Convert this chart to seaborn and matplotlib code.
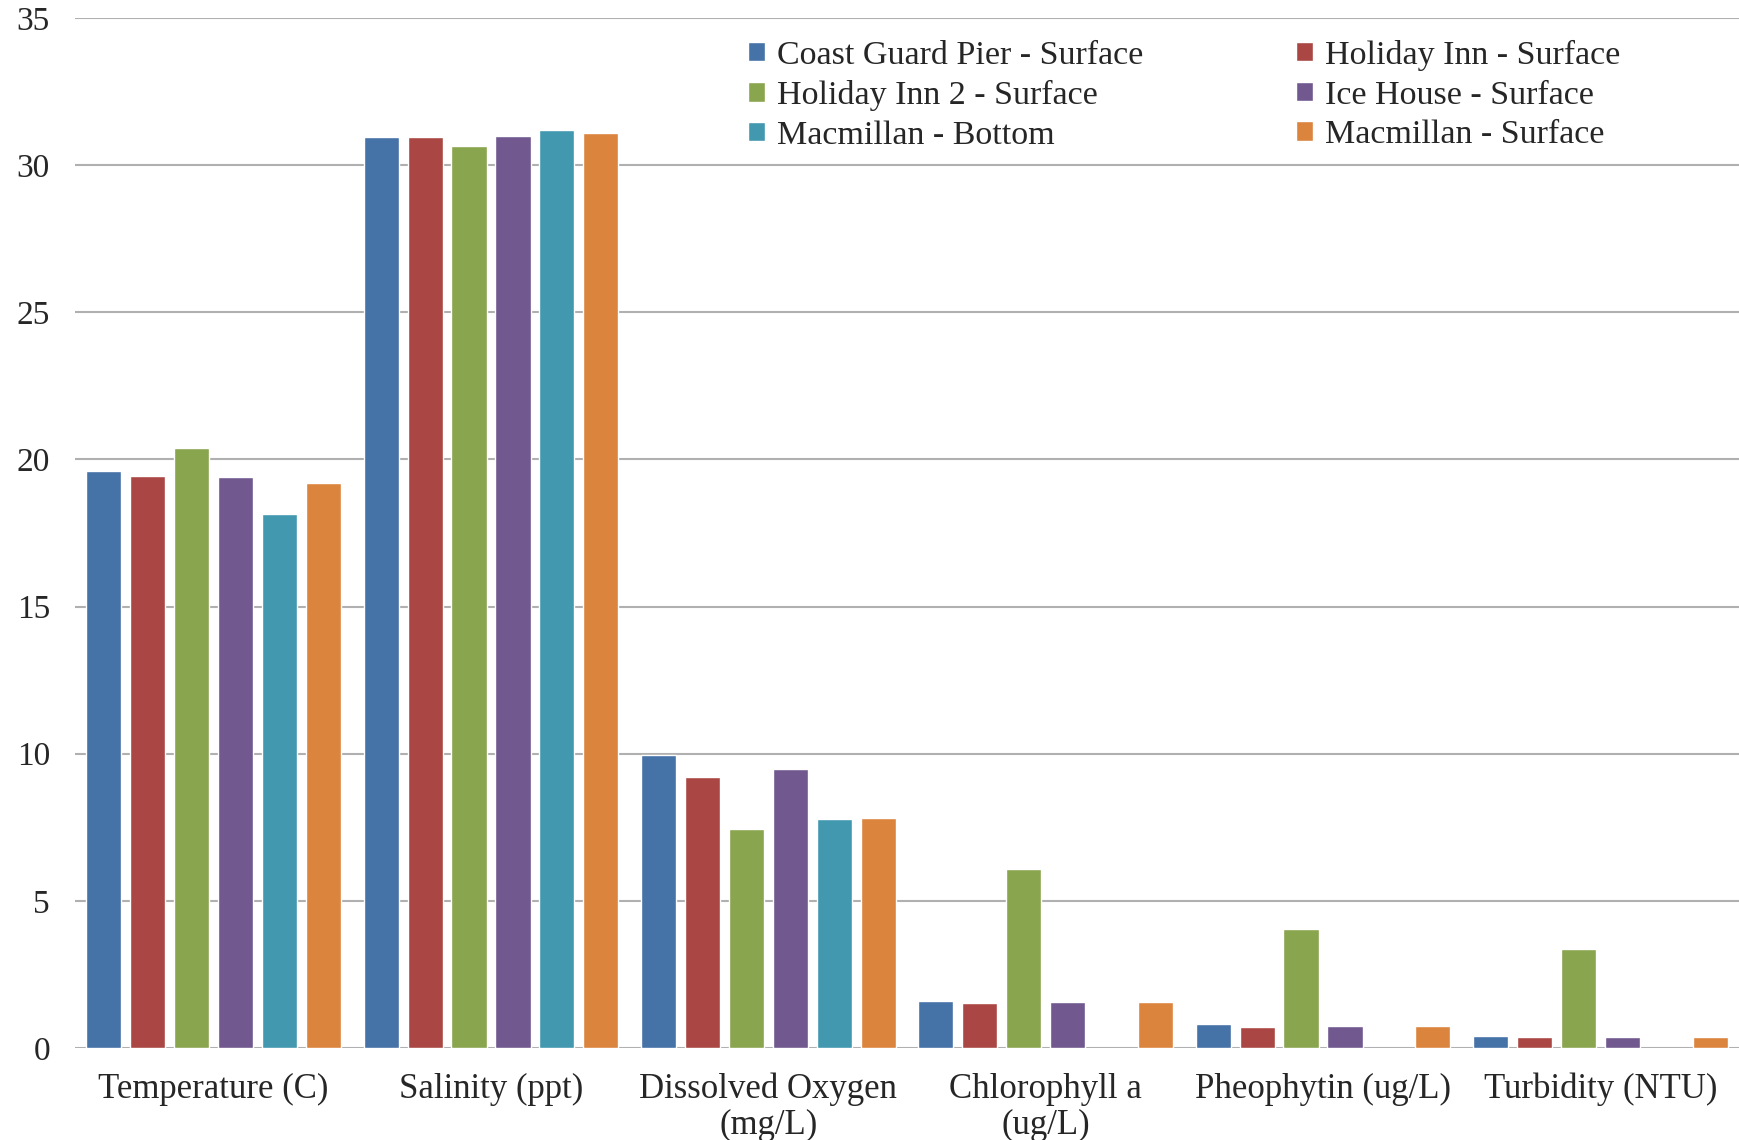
import numpy as np
import pandas as pd
import seaborn as sns
from matplotlib import pyplot as plt

categories = [
    'Temperature (C)',
    'Salinity (ppt)',
    'Dissolved Oxygen\n(mg/L)',
    'Chlorophyll a\n(ug/L)',
    'Pheophytin (ug/L)',
    'Turbidity (NTU)',
]
sites = [
    'Coast Guard Pier - Surface',
    'Holiday Inn - Surface',
    'Holiday Inn 2 - Surface',
    'Ice House - Surface',
    'Macmillan - Bottom',
    'Macmillan - Surface',
]
coast_guard = [19.6, 30.95, 9.95, 1.61, 0.81, 0.40]
holiday_inn = [19.45, 30.95, 9.2, 1.54, 0.72, 0.36]
holiday_inn_2 = [20.4, 30.65, 7.43, 6.09, 4.03, 3.37]
ice_house = [19.4, 31.0, 9.47, 1.58, 0.75, 0.36]
macmillan_bottom = [18.15, 31.2, 7.77, np.nan, np.nan, np.nan]
macmillan_surface = [19.2, 31.1, 7.81, 1.58, 0.75, 0.36]
colors = ['#4572A7', '#AA4643', '#89A54E', '#71588F', '#4198AF', '#DB843D']

series = [coast_guard, holiday_inn, holiday_inn_2, ice_house, macmillan_bottom, macmillan_surface]
rows = []
for site, values in zip(sites, series):
    for cat, v in zip(categories, values):
        rows.append({'category': cat, 'site': site, 'value': v})
df = pd.DataFrame(rows)

sns.set_style('white')
plt.rcParams['font.family'] = ['Liberation Serif', 'DejaVu Serif']

fig = plt.figure(figsize=(17.39, 11.40), dpi=100)
ax = fig.add_axes([75 / 1739, 1 - 1048 / 1140, 1 - 75 / 1739, (1048 - 18) / 1140])

sns.barplot(
    data=df, x='category', y='value', hue='site',
    order=categories, hue_order=sites, palette=colors,
    width=0.95, gap=0.2, errorbar=None, saturation=1, ax=ax,
)

ax.set_xlim(-0.5, 5.5)
ax.set_ylim(0, 35)
ax.set_yticks(range(0, 36, 5))
ax.yaxis.grid(True, color='#b0b0b0', linewidth=1.5)
ax.set_axisbelow(True)
for s in ax.spines.values():
    s.set_visible(False)
ax.set_xlabel('')
ax.set_ylabel('')
ax.tick_params(axis='y', length=0, pad=18, labelsize=24)
ax.tick_params(axis='x', length=0, pad=18, labelsize=25)
for lbl in ax.get_xticklabels():
    lbl.set_linespacing(1.1)

handles, labels = ax.get_legend_handles_labels()
order = [0, 2, 4, 1, 3, 5]
ax.legend(
    [handles[i] for i in order], [labels[i] for i in order],
    ncol=2, frameon=False, fontsize=24.5,
    loc='upper left', bbox_to_anchor=(0.39, 1.002),
    handlelength=0.5, handleheight=0.5, handletextpad=0.35,
    columnspacing=4.5, labelspacing=0.27, borderaxespad=0.3,
)

fig.savefig('out.png', dpi=100)
